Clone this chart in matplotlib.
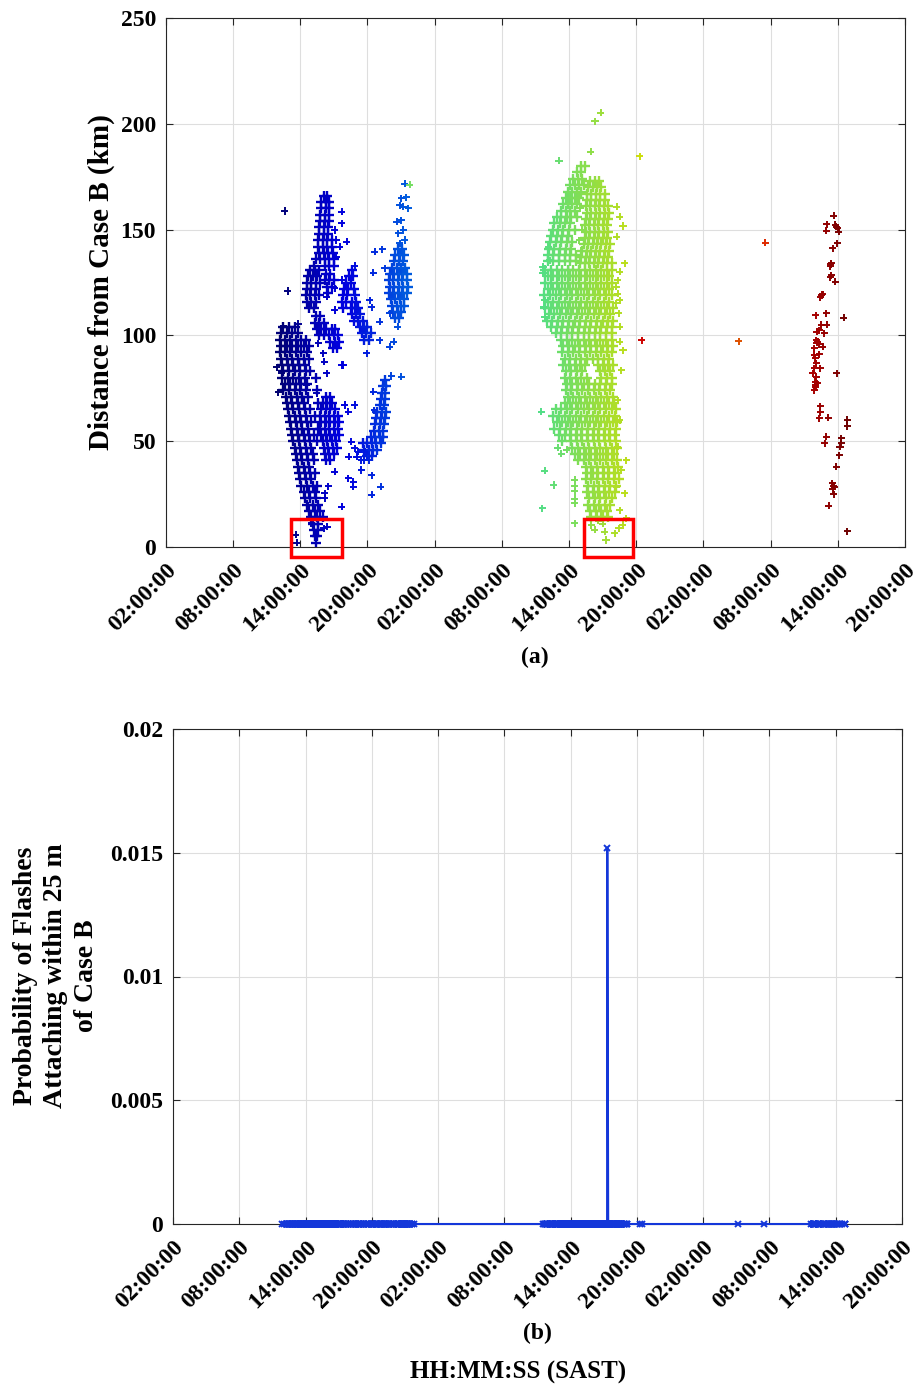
import matplotlib
matplotlib.use("Agg")
import numpy as np
import matplotlib.pyplot as plt
from matplotlib.patches import Rectangle
from matplotlib.colors import Normalize, ListedColormap
from matplotlib import colormaps

plt.rcParams['font.family'] = ['Liberation Serif', 'DejaVu Serif']
plt.rcParams['font.weight'] = 'bold'

# ---------------- data (time in hours from 00:00 of day 1, distance in km) -------------
# dense clouds are read row-by-row: (distance, [times ...])
blue_main_rows = [
    (104, [12.5, 13.0, 13.5]), (101, [12.3, 12.8, 13.3, 13.8]),
    (98, [12.2, 12.6, 13.1, 13.6, 14.1, 14.5]), (95, [12.3, 12.8, 13.3, 13.8, 14.3, 14.8]),
    (92, [12.2, 12.6, 13.1, 13.6, 14.1, 14.6]), (89, [12.3, 12.8, 13.3, 13.8, 14.3, 14.8]),
    (86, [12.4, 12.9, 13.4, 13.9, 14.4]), (83, [12.5, 13.0, 13.5, 14.0, 14.5, 14.9]),
    (80, [12.4, 12.9, 13.4, 13.9, 14.4, 15.4]), (77, [12.6, 13.1, 13.6, 14.1, 14.6]),
    (74, [12.5, 13.0, 13.5, 14.0, 14.5, 15.5]), (71, [12.7, 13.2, 13.7, 14.2, 14.7]),
    (68, [12.8, 13.3, 13.8, 14.3, 15.6]), (65, [12.9, 13.4, 13.9, 14.4, 14.9]),
    (62, [13.0, 13.5, 14.0, 14.5, 15.3]), (59, [13.1, 13.6, 14.1, 14.6, 15.0]),
    (56, [13.2, 13.7, 14.2, 14.7, 15.6]), (53, [13.3, 13.8, 14.3, 14.8, 15.2]),
    (50, [13.4, 13.9, 14.4, 14.9, 15.5]), (47, [13.5, 14.0, 14.5, 15.0]),
    (44, [13.6, 14.1, 14.6, 15.1]), (41, [13.7, 14.2, 14.7, 15.2]),
    (38, [13.8, 14.3, 14.8]), (35, [13.9, 14.4, 14.9, 15.3]),
    (32, [14.0, 14.5, 15.0]), (29, [14.1, 14.6, 15.1, 15.5]),
    (26, [14.3, 14.8, 15.3]), (23, [14.4, 14.9, 15.4]),
    (20, [14.6, 15.1, 15.6]), (17, [14.8, 15.3, 15.8]),
    (14, [15.0, 15.5, 16.0]), (11, [15.1, 15.6]), (8, [15.2, 15.6]),
    (5, [15.3, 15.5]), (2, [15.4]),
]
blue_mid_rows = [
    (71, [16.3, 16.7]), (68, [16.0, 16.4, 16.8]), (65, [15.9, 16.3, 16.7, 17.1]),
    (62, [15.8, 16.2, 16.6, 17.0, 17.4]), (59, [15.9, 16.3, 16.7, 17.1, 17.5]),
    (56, [15.8, 16.2, 16.6, 17.0, 17.4]), (53, [15.9, 16.3, 16.7, 17.1, 17.5]),
    (50, [16.0, 16.4, 16.8, 17.2]), (47, [16.1, 16.5, 16.9, 17.3]),
    (44, [16.2, 16.6, 17.0]), (41, [16.3, 16.7]),
]
blue_tall_rows = [
    (166, [16.1, 16.4]), (163, [15.9, 16.3, 16.6]), (160, [15.9, 16.3, 16.6]),
    (157, [15.8, 16.2, 16.6]), (154, [15.8, 16.2, 16.6]), (151, [15.7, 16.1, 16.5]),
    (148, [15.7, 16.1, 16.5]), (145, [15.6, 16.0, 16.4, 16.8]),
    (142, [15.6, 16.0, 16.4, 16.8]), (139, [15.7, 16.1, 16.5, 16.9]),
    (136, [15.4, 15.8, 16.2, 16.6, 17.0]), (133, [15.2, 16.2, 16.6, 17.0]),
    (131, [14.9, 15.3, 15.7]), (129, [16.3, 16.7]), (128, [14.7, 15.1, 15.5]),
    (126, [16.2, 16.6, 17.0]), (125, [14.6, 15.0, 15.4, 15.8]), (123, [16.4, 16.8]),
    (122, [14.6, 15.0, 15.4]), (120, [16.5]), (119, [14.5, 14.9, 15.3, 15.7]),
    (116, [14.6, 15.0, 15.4]), (113, [14.8, 15.2]),
    (109, [15.4, 15.8]), (106, [15.3, 15.7, 16.1]),
    (103, [15.5, 15.9, 16.3, 16.8, 17.1]), (100, [15.7, 16.1, 16.6, 17.0, 17.4]),
    (97, [16.7, 17.1, 17.5]), (94, [16.9, 17.3]),
]
blue_midcol_rows = [
    (131, [18.6]), (128, [18.4, 18.7]), (125, [18.1, 18.5]), (122, [17.9, 18.3, 18.8]),
    (119, [17.8, 18.2, 18.9]), (116, [17.7, 18.1, 18.6, 19.0]),
    (113, [17.8, 18.5, 18.9, 19.2]), (110, [18.6, 19.0, 19.3]),
    (107, [18.8, 19.2, 19.6]), (104, [19.3, 19.7, 20.0]),
    (101, [19.5, 19.9, 20.3]), (98, [19.7, 20.1]),
]
blue_right_rows = [
    (141, [22.7, 23.1]), (138, [22.5, 22.9, 23.3]), (135, [22.4, 22.8, 23.2]),
    (132, [22.2, 22.6, 23.0, 23.4]), (129, [22.0, 22.4, 22.8, 23.2, 23.5]),
    (126, [21.9, 22.3, 22.7, 23.1, 23.5]), (123, [22.0, 22.4, 22.8, 23.2, 23.6]),
    (120, [21.9, 22.3, 22.7, 23.1, 23.5]), (117, [22.1, 22.5, 22.9, 23.3]),
    (114, [22.2, 22.6, 23.0, 23.3]), (111, [22.3, 22.7, 23.0]), (108, [22.5, 22.8]),
    (79, [21.6]), (76, [21.4, 21.7]), (73, [21.3, 21.6]), (70, [21.2, 21.6]),
    (67, [21.1, 21.5]), (64, [20.9, 21.3, 21.7]), (61, [20.8, 21.2, 21.6]),
    (58, [20.7, 21.1, 21.5]), (55, [20.6, 21.0, 21.4]), (52, [20.3, 20.7, 21.1, 21.4]),
    (49, [19.6, 20.0, 20.4, 20.8, 21.2]), (46, [19.7, 20.1, 20.5, 20.9]), (43, [20.0, 20.4]),
]
blue_scatter = [
    (12.63, 158.8), (12.87, 121), (17.69, 158.5), (17.69, 153), (17.09, 149.8), (17.24, 145.1),
    (18.14, 144.3), (17.54, 141.9), (17.24, 137.2), (18.88, 132.8), (17.69, 126.2), (17.09, 122.3),
    (16.35, 118.3), (17.09, 112), (20.66, 139.6), (21.32, 140.7), (20.51, 129.6), (21.55, 131.7),
    (20.22, 116.7), (20.37, 113.3), (21.11, 106.5), (22.0, 110.4), (22.69, 104.1), (22.36, 97),
    (22.0, 94.7), (21.11, 97.8), (19.92, 91.5), (13.82, 105.4), (12.48, 104.6), (16.05, 91.5),
    (17.69, 86), (15.6, 96.3), (16.14, 87.6), (12.04, 73.1), (12.34, 82.1), (15.46, 72.6),
    (14.57, 76.6), (16.35, 82.1), (17.83, 86.0), (17.99, 67.1), (18.88, 67.1), (18.28, 64),
    (18.58, 49.8), (18.34, 42.7), (19.03, 42.7), (19.47, 36.4), (18.28, 32.5), (18.73, 30.9),
    (18.73, 28.5), (20.37, 34), (20.37, 24.6), (21.2, 28.5), (17.09, 35.6), (16.5, 28.8),
    (16.2, 25.4), (16.2, 23.0), (17.69, 19), (14.71, 19.8), (20.51, 73.4), (22.15, 80.8),
    (23.04, 80.5), (20.6, 64.7), (18.88, 46.6), (19.47, 41.1), (19.67, 41.1), (20.1, 41.1),
    (19.18, 45), (19.77, 45), (23.34, 171.6), (23.04, 164.8), (23.49, 165.3), (22.89, 161.6),
    (23.19, 160.8), (23.63, 160.1), (23.04, 154.5), (22.6, 153.7), (23.19, 149.8), (22.74, 148.2),
    (23.34, 145.1), (22.89, 143.5), (15.0, 11.2), (16.1, 8.8), (16.4, 9.5), (13.6, 5.7),
    (13.7, 2.0), (11.9, 85),
]
green_rows = [
    (180, [39.1, 39.4]), (177, [38.7, 39.1]), (174, [38.4, 38.8, 39.2]),
    (171, [38.1, 38.5, 38.9, 39.3]), (168, [37.9, 38.3, 38.7, 39.1]),
    (165, [37.7, 38.1, 38.5, 38.9]), (162, [37.5, 37.9, 38.3, 38.7]),
    (159, [37.3, 37.7, 38.1, 38.5]), (156, [36.9, 37.3, 37.8, 38.2, 38.7]),
    (153, [36.7, 37.2, 37.6, 38.1]), (150, [36.6, 37.0, 37.5, 38.0, 38.5]),
    (147, [36.4, 36.9, 37.4, 37.9]), (144, [36.3, 36.8, 37.3, 37.8, 38.3]),
    (141, [36.2, 36.7, 37.2, 37.7, 38.2]), (138, [36.1, 36.6, 37.1, 37.6, 38.1, 38.6]),
    (135, [36.1, 36.6, 37.1, 37.6, 38.1, 38.6]),
    (173, [39.9, 40.3, 40.7]), (170, [39.7, 40.1, 40.5, 40.9]),
    (167, [39.6, 40.0, 40.4, 40.8, 41.2]), (164, [39.6, 40.0, 40.4, 40.8, 41.2]),
    (161, [39.5, 39.9, 40.3, 40.7, 41.1, 41.5]), (158, [39.6, 40.0, 40.4, 40.8, 41.2, 41.6]),
    (155, [39.5, 39.9, 40.3, 40.7, 41.1, 41.5]), (152, [39.4, 39.8, 40.2, 40.6, 41.0, 41.4]),
    (149, [39.5, 39.9, 40.3, 40.7, 41.1, 41.5]), (146, [39.4, 39.8, 40.2, 40.6, 41.0, 41.4]),
    (143, [39.3, 39.7, 40.1, 40.5, 40.9, 41.3, 41.7]), (140, [39.2, 39.6, 40.0, 40.4, 40.8, 41.2, 41.6]),
    (137, [39.1, 39.5, 39.9, 40.3, 40.7, 41.1, 41.5]),
    (134, [39.0, 39.4, 39.8, 40.2, 40.6, 41.0, 41.4, 41.8]),
    (131, [35.9, 36.4, 36.9, 37.4, 37.9, 38.4, 38.9, 39.4, 39.9, 40.4, 40.9, 41.4, 41.8]),
    (128, [36.1, 36.6, 37.1, 37.6, 38.1, 38.6, 39.1, 39.6, 40.1, 40.6, 41.1, 41.6]),
    (125, [35.9, 36.4, 36.9, 37.4, 37.9, 38.4, 38.9, 39.4, 39.9, 40.4, 40.9, 41.4, 41.8]),
    (122, [36.1, 36.6, 37.1, 37.6, 38.1, 38.6, 39.1, 39.6, 40.1, 40.6, 41.1, 41.6]),
    (119, [35.8, 36.3, 36.8, 37.3, 37.8, 38.3, 38.8, 39.3, 39.8, 40.3, 40.8, 41.3, 41.8]),
    (116, [36.1, 36.6, 37.1, 37.6, 38.1, 38.6, 39.1, 39.6, 40.1, 40.6, 41.1, 41.6]),
    (113, [35.9, 36.4, 36.9, 37.4, 37.9, 38.4, 38.9, 39.4, 39.9, 40.4, 40.9, 41.4, 41.9]),
    (110, [36.2, 36.7, 37.2, 37.7, 38.2, 38.7, 39.2, 39.7, 40.2, 40.7, 41.2, 41.7]),
    (107, [36.0, 36.5, 37.0, 37.5, 38.0, 38.5, 39.0, 39.5, 40.0, 40.5, 41.0, 41.5, 41.9]),
    (104, [36.4, 36.9, 37.4, 37.9, 38.4, 38.9, 39.4, 39.9, 40.4, 40.9, 41.4, 41.8]),
    (101, [36.8, 37.3, 37.8, 38.3, 38.8, 39.3, 39.8, 40.3, 40.8, 41.3, 41.8]),
    (98, [37.3, 37.8, 38.3, 38.8, 39.3, 39.8, 40.3, 40.8, 41.3, 41.8]),
    (95, [37.5, 38.0, 38.5, 39.0, 39.5, 40.0, 40.5, 41.0, 41.5, 41.9]),
    (92, [37.4, 37.9, 38.4, 38.9, 39.4, 39.9, 40.4, 40.9, 41.4, 41.8]),
    (89, [37.6, 38.1, 38.6, 39.1, 39.6, 40.1, 40.6, 41.1, 41.6]),
    (86, [37.5, 38.0, 38.5, 39.0, 39.4, 40.6, 41.0, 41.5, 41.9]),
    (83, [37.7, 38.2, 38.7, 39.2, 40.8, 41.2, 41.7]),
    (80, [37.6, 38.1, 38.6, 39.1, 39.6, 40.9, 41.4, 41.8]),
    (77, [37.8, 38.3, 38.8, 39.3, 39.8, 40.3, 40.8, 41.3, 41.8]),
    (74, [37.7, 38.2, 38.7, 39.2, 39.7, 40.2, 40.7, 41.2, 41.7]),
    (71, [37.9, 38.4, 38.9, 39.4, 39.9, 40.4, 40.9, 41.4, 41.9]),
    (68, [37.6, 38.1, 38.6, 39.1, 39.6, 40.1, 40.6, 41.1, 41.6, 42.0]),
    (65, [36.8, 37.3, 37.8, 38.3, 38.8, 39.3, 39.8, 40.3, 40.8, 41.3, 41.8, 42.2]),
    (62, [36.6, 37.1, 37.6, 38.1, 38.6, 39.1, 39.6, 40.1, 40.6, 41.1, 41.6, 42.1]),
    (59, [36.9, 37.4, 37.9, 38.4, 38.9, 39.4, 39.9, 40.4, 40.9, 41.4, 41.9, 42.3]),
    (56, [36.7, 37.2, 37.7, 38.2, 38.7, 39.2, 39.7, 40.2, 40.7, 41.2, 41.7, 42.2]),
    (53, [37.1, 37.6, 38.1, 38.6, 39.1, 39.6, 40.1, 40.6, 41.1, 41.6, 42.1]),
    (50, [37.4, 38.2, 38.7, 39.2, 39.7, 40.2, 40.7, 41.2, 41.7, 42.2]),
    (47, [38.3, 38.8, 39.3, 39.8, 40.3, 40.8, 41.3, 41.8, 42.3]),
    (44, [38.5, 39.0, 39.5, 40.0, 40.5, 41.0, 41.5, 42.0]),
    (41, [38.8, 39.3, 39.8, 40.3, 40.8, 41.3, 41.8, 42.3]),
    (38, [39.5, 40.0, 40.5, 41.0, 41.5, 42.0, 42.4]),
    (35, [39.6, 40.1, 40.6, 41.1, 41.6, 42.1]),
    (32, [39.5, 40.0, 40.5, 41.0, 41.5, 42.0, 42.5]),
    (29, [39.7, 40.2, 40.7, 41.2, 41.7, 42.2]),
    (26, [39.6, 40.1, 40.6, 41.1, 41.6, 42.1]),
    (23, [39.8, 40.3, 40.8, 41.3, 41.8]),
    (20, [39.7, 40.2, 40.7, 41.2, 41.7]),
    (17, [39.9, 40.4, 40.9, 41.4]),
    (14, [40.0, 40.5, 41.0, 41.5]),
]
green_scatter = [
    (40.83, 205.2), (40.32, 201.3), (39.93, 186.8), (37.11, 182.5),
    (42.28, 160.8), (42.52, 156.1), (42.82, 151.7), (42.28, 146.6), (42.96, 134.0),
    (42.52, 130.1), (42.37, 126.1), (42.22, 123.0), (42.37, 119.8), (42.52, 116.7),
    (42.46, 110.4), (42.22, 115.1), (42.52, 104), (42.52, 97), (42.82, 93), (42.67, 83.6),
    (42.37, 69.4), (42.52, 60), (42.37, 47.4), (43.12, 41), (42.67, 36.3), (42.22, 28.5),
    (42.97, 25.3), (42.52, 17.4), (35.68, 132.4), (35.68, 129.3), (35.83, 116.7),
    (35.74, 113.5), (35.83, 108.8), (36.13, 141.9), (36.27, 135.6), (35.53, 64),
    (35.83, 36.1), (36.63, 29.3), (35.62, 18.3), (38.5, 31.7), (38.5, 28.6), (38.5, 26.4),
    (38.5, 22.7), (38.5, 20.6), (38.5, 11.2), (37.0, 47), (37.3, 44), (37.8, 46),
    (40.0, 10.4), (40.3, 8.1), (41.2, 7.3), (41.3, 3.3), (42.07, 6.5), (42.46, 8.9),
    (42.8, 10.4), (43.1, 13.6), (40.6, 12.5), (41.0, 11.0), (39.0, 160), (39.2, 150),
    (38.9, 145), (39.1, 140),
]
red_scatter = [
    (61.64, 156.6), (61.02, 152.5), (60.96, 149.5), (61.79, 152.2), (62.0, 150.6), (62.09, 149.0),
    (61.85, 151.3), (61.97, 143.5), (61.55, 141.1), (61.40, 134.0), (61.34, 132.8), (61.37, 133.6),
    (61.40, 128.5), (61.34, 127.4), (61.79, 125.4), (60.57, 119.1), (60.45, 118.0), (60.66, 119.5),
    (60.03, 109.5), (60.96, 110.4), (62.53, 108.4), (60.51, 104.9), (61.02, 105.1), (60.36, 102.5),
    (60.12, 101.7), (60.81, 101.0), (60.06, 97.8), (60.21, 97.0), (60.36, 95.9), (60.1, 96.6),
    (60.66, 94.7), (59.91, 93.9), (60.36, 91.0), (59.91, 90.7), (60.00, 89.1), (60.42, 84.4),
    (60.06, 86.8), (59.91, 84.4), (59.77, 82.1), (60.06, 80.5), (59.97, 78.1), (60.15, 77.3),
    (60.03, 75.8), (59.91, 74.2), (60.0, 76.5), (61.91, 82.1), (60.45, 66.6), (60.42, 63.6),
    (60.36, 60.8), (61.16, 61.1), (62.83, 60.0), (62.83, 57.2), (60.96, 52.1), (60.84, 49.0),
    (62.29, 51.3), (62.29, 49.0), (62.20, 47.4), (62.14, 43.3), (61.85, 38.0), (61.49, 30.1),
    (61.70, 28.5), (61.55, 27.4), (61.64, 25.0), (61.58, 28.9), (61.19, 19.5), (62.83, 7.5),
]
# isolated flashes: (time, distance, colour value)
isolated_flashes = [
    (44.3, 184.7, 44.3), (44.5, 97.6, 58.0), (53.17, 97.3, 53.17),
    (55.51, 143.8, 55.51), (23.78, 171.1, 38.0),
]
# probability of attachment within 25 m (panel b): zero except one flash
spike_time = 41.32
spike_value = 0.0152

tick_hours = [2, 8, 14, 20, 26, 32, 38, 44, 50, 56, 62, 68]
tick_labels = ['02:00:00', '08:00:00', '14:00:00', '20:00:00'] * 3
dist_ticks = [0, 50, 100, 150, 200, 250]
prob_ticks = [0, 0.005, 0.01, 0.015, 0.02]
prob_tick_labels = ['0', '0.005', '0.01', '0.015', '0.02']
boxes = [(13.2, 17.7), (39.3, 43.7)]
box_dist = (-4.5, 13.3)


def expand(rows):
    hs, ds = [], []
    for d, hl in rows:
        for h in hl:
            hs.append(h)
            ds.append(d)
    return hs, ds


# dense clouds
Hc, Dc = [], []
for rows in (blue_main_rows, blue_mid_rows, blue_tall_rows, blue_midcol_rows,
             blue_right_rows, green_rows):
    h, d = expand(rows)
    Hc += h
    Dc += d
# individual flashes
Hs, Ds = [], []
for pts in (blue_scatter, green_scatter, red_scatter):
    Hs += [p[0] for p in pts]
    Ds += [p[1] for p in pts]
Cs = list(Hs)
Hs += [p[0] for p in isolated_flashes]
Ds += [p[1] for p in isolated_flashes]
Cs += [p[2] for p in isolated_flashes]

all_times = Hc + Hs

# slightly darkened jet, as printed in the reference
_jet = colormaps['jet'](np.linspace(0, 1, 256))
_jet[:, :3] *= 0.87
cmap = ListedColormap(_jet)

# ---------------- figure ----------------
fig = plt.figure(figsize=(9.22, 13.87), dpi=100)
ax1 = fig.add_axes([165.8 / 922, 1 - 547 / 1387, (905 - 165.8) / 922, 529 / 1387])
ax2 = fig.add_axes([173 / 922, 1 - 1224 / 1387, (902 - 173) / 922, 495 / 1387])

FS_TICK = 17
axcol = '#262626'

norm = Normalize(vmin=min(all_times), vmax=max(all_times))
ax1.scatter(Hc, Dc, c=Hc, cmap=cmap, norm=norm, marker='+', s=52, linewidths=1.7, zorder=3)
ax1.scatter(Hs, Ds, c=Cs, cmap=cmap, norm=norm, marker='+', s=26, linewidths=1.4, zorder=4)

for (h0, h1) in boxes:
    ax1.add_patch(Rectangle((h0, box_dist[0]), h1 - h0, box_dist[1] - box_dist[0],
                            fill=False, edgecolor='#ff0000', lw=2.5, clip_on=False, zorder=5))

ax1.set_ylim(0, 250)
ax1.set_yticks(dist_ticks)
ax1.set_yticklabels([str(v) for v in dist_ticks])

flash_times = sorted(all_times + [spike_time])
prob = [spike_value if t == spike_time else 0.0 for t in flash_times]
ax2.plot(flash_times, prob, '-x', color='#1437d9', lw=1.5, markersize=4.5, mew=1.4,
         zorder=4, clip_on=False)
ax2.set_ylim(0, 0.02)
ax2.set_yticks(prob_ticks)
ax2.set_yticklabels(prob_tick_labels)

for ax in (ax1, ax2):
    ax.set_xlim(tick_hours[0], tick_hours[-1])
    ax.set_xticks(tick_hours)
    ax.set_xticklabels(tick_labels, rotation=45, ha='right', va='top', rotation_mode='anchor')
    ax.grid(True, color='#dedede', lw=0.8)
    ax.set_axisbelow(True)
    ax.tick_params(direction='in', top=True, right=True, length=5, width=0.8,
                   color=axcol, labelsize=FS_TICK, pad=7)
    ax.tick_params(axis='x', pad=9)
    for s in ax.spines.values():
        s.set_color(axcol)
        s.set_linewidth(0.8)
    for lab in ax.get_xticklabels() + ax.get_yticklabels():
        lab.set_fontweight('bold')

fig.text(101 / 922, 1 - 282 / 1387, 'Distance from Case B (km)', rotation=90,
         ha='center', va='center', fontsize=21, fontweight='bold')
fig.text(535 / 922, 1 - 657 / 1387, '(a)', ha='center', va='center', fontsize=17, fontweight='bold')
fig.text(56 / 922, 1 - 976 / 1387, 'Probability of Flashes\nAttaching within 25 m\nof Case B',
         rotation=90, ha='center', va='center', multialignment='center',
         fontsize=20, fontweight='bold', linespacing=1.3)
fig.text(537 / 922, 1 - 1333 / 1387, '(b)', ha='center', va='center', fontsize=17, fontweight='bold')
fig.text(518 / 922, 1 - 1372 / 1387, 'HH:MM:SS (SAST)', ha='center', va='center',
         fontsize=18, fontweight='bold')

fig.savefig('out.png', dpi=100, facecolor='white')
